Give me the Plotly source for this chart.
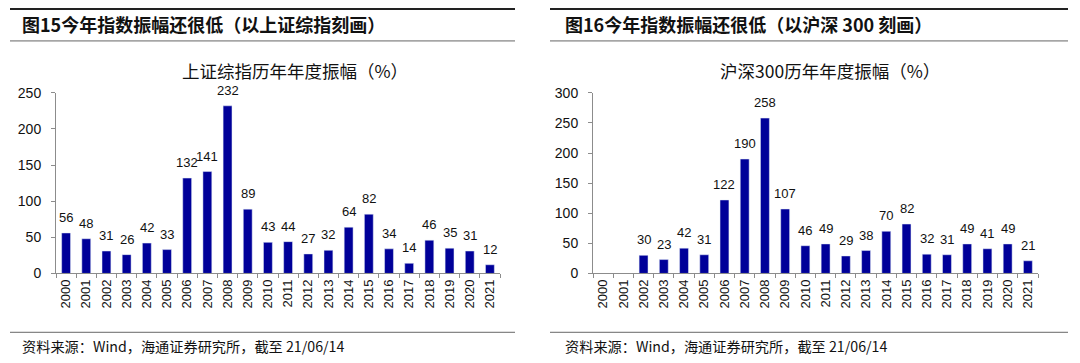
import plotly.graph_objects as go

years = [str(y) for y in range(2000, 2022)]
sh_amp = [56, 48, 31, 26, 42, 33, 132, 141, 232, 89, 43, 44, 27, 32, 64, 82, 34, 14, 46, 35, 31, 12]
hs300_amp = [None, None, 30, 23, 42, 31, 122, 190, 258, 107, 46, 49, 29, 38, 70, 82, 32, 31, 49, 41, 49, 21]

fig_title_left = "图15今年指数振幅还很低（以上证综指刻画）"
fig_title_right = "图16今年指数振幅还很低（以沪深 300 刻画）"
chart_title_left = "上证综指历年年度振幅（%）"
chart_title_right = "沪深300历年年度振幅（%）"
source_text = "资料来源：Wind，海通证券研究所，截至 21/06/14"

W, H = 1080, 363
BAR = "#000099"
NUM_FONT = "Liberation Sans, Arial, sans-serif"
CJK_FONT = "Noto Sans CJK SC, sans-serif"

# the photographed page is mapped as image_y = 7 + 0.958 * page_y
Y_OFF, Y_SCALE = 7.0, 0.958

def px(x):
    return x / W

def py(y_img):
    page_y = (y_img - Y_OFF) / Y_SCALE
    return 1 - page_y / H

fig = go.Figure()
fig.add_trace(go.Bar(
    x=years, y=sh_amp, marker_color=BAR, width=0.44,
    xaxis="x", yaxis="y", showlegend=False, hoverinfo="x+y",
))
fig.add_trace(go.Bar(
    x=years, y=hs300_amp, marker_color=BAR, width=0.44,
    xaxis="x2", yaxis="y2", showlegend=False, hoverinfo="x+y",
))

n = len(years)
common_x = dict(
    type="category", tickangle=-90, showline=True, linecolor="#8c8c8c", linewidth=1,
    ticks="outside", tickson="boundaries", ticklen=4, tickcolor="#8c8c8c",
    tickfont=dict(family=NUM_FONT, size=13, color="#111"), showgrid=False, zeroline=False,
    fixedrange=True, range=[-0.5, n - 0.5], autorange=False,
    categoryorder="array", categoryarray=years,
)
common_y = dict(
    showline=True, linecolor="#8c8c8c", linewidth=1, ticks="outside", ticklen=4, tickcolor="#8c8c8c",
    tickfont=dict(family=NUM_FONT, size=14, color="#111"), showgrid=False, zeroline=False,
    dtick=50, ticklabelstandoff=7, fixedrange=True, autorange=False,
)

y_dom = [py(273), py(92)]
fig.update_layout(
    width=W, height=H, margin=dict(l=0, r=0, t=0, b=0),
    paper_bgcolor="white", plot_bgcolor="white",
    xaxis=dict(domain=[px(56), px(500)], anchor="y", **common_x),
    yaxis=dict(domain=y_dom, range=[0, 250], anchor="x", **common_y),
    xaxis2=dict(domain=[px(593), px(1038)], anchor="y2", **common_x),
    yaxis2=dict(domain=y_dom, range=[0, 300], anchor="x2", **common_y),
)

shapes = []
for x0, x1 in [(10, 515), (550, 1068)]:
    shapes.append(dict(type="line", xref="paper", yref="paper", x0=px(x0), x1=px(x1),
                       y0=py(8), y1=py(8), line=dict(color="#222", width=2)))
    shapes.append(dict(type="line", xref="paper", yref="paper", x0=px(x0), x1=px(x1),
                       y0=py(40), y1=py(40), line=dict(color="#666", width=1)))
    shapes.append(dict(type="line", xref="paper", yref="paper", x0=px(x0), x1=px(x1),
                       y0=py(332), y1=py(332), line=dict(color="#666", width=1)))
fig.update_layout(shapes=shapes)

ann = []
# value labels, placed through the axes (category index on the x axis)
for xa, ya, vals in [("x", "y", sh_amp), ("x2", "y2", hs300_amp)]:
    for i, v in enumerate(vals):
        if v is None:
            continue
        ann.append(dict(text=str(v), x=i, y=v, xref=xa, yref=ya, xanchor="center", yanchor="bottom",
                        yshift=6, showarrow=False,
                        font=dict(family=NUM_FONT, size=13, color="#111")))

for t, x, y, anchor, size, bold in [
    (fig_title_left, 20, 23, "left", 18, True),
    (fig_title_right, 563, 23, "left", 18, True),
    (chart_title_left, 295, 70, "center", 17.5, False),
    (chart_title_right, 830, 70, "center", 17.5, False),
    (source_text, 20, 346, "left", 14.2, False),
    (source_text, 563, 346, "left", 14.2, False),
]:
    ann.append(dict(text=("<b>" + t + "</b>") if bold else t, x=px(x), y=py(y), xref="paper", yref="paper",
                    xanchor=anchor, yanchor="middle", showarrow=False,
                    font=dict(family=CJK_FONT, size=size, color="#111")))
fig.update_layout(annotations=ann)

post = (
    "var d=document.getElementById('{plot_id}');"
    "document.documentElement.style.margin='0';document.documentElement.style.padding='0';"
    "document.body.style.margin='0';document.body.style.padding='0';"
    "document.documentElement.style.overflow='hidden';document.body.style.overflow='hidden';"
    "d.style.position='fixed';d.style.top='0px';d.style.left='0px';"
)
fig.write_html("out.html", post_script=post, config={"displayModeBar": False})
